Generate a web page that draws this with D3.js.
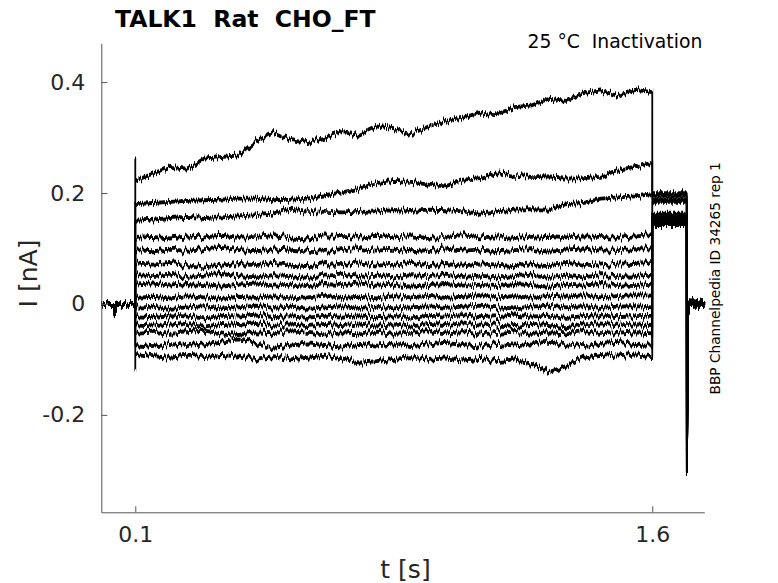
<!DOCTYPE html>
<html>
<head>
<meta charset="utf-8">
<script src="https://cdn.jsdelivr.net/npm/d3@7"></script>
<style>
  body { margin: 0; background: #fff; }
  text { font-family: "DejaVu Sans", sans-serif; white-space: pre; }
</style>
</head>
<body>
<div id="chart"></div>
<script>
// holding level before the conditioning step (all sweeps overlap here)
const preTimes  = [0.0014, 0.01, 0.02, 0.03, 0.038, 0.041, 0.044, 0.05, 0.06, 0.07, 0.08, 0.09, 0.1];
const preValues = [0.001, -0.002, 0.002, -0.001, -0.004, -0.022, -0.003, 0.002, -0.004, 0.001, -0.003, 0.002, 0.0];

// conditioning step, sampled every 50 ms (nA)
const stepTimes = [0.10, 0.15, 0.20, 0.25, 0.30, 0.35, 0.40, 0.45, 0.50, 0.55, 0.60, 0.65, 0.70, 0.75, 0.80, 0.85,
                   0.90, 0.95, 1.00, 1.05, 1.10, 1.15, 1.20, 1.25, 1.30, 1.35, 1.40, 1.45, 1.50, 1.55, 1.60];
const sweep1  = [0.222, 0.235, 0.247, 0.244, 0.262, 0.265, 0.268, 0.292, 0.310, 0.296, 0.290, 0.300, 0.310, 0.305, 0.320, 0.315,
                 0.306, 0.320, 0.330, 0.336, 0.345, 0.342, 0.355, 0.358, 0.370, 0.366, 0.380, 0.385, 0.375, 0.386, 0.382];
const sweep2  = [0.180, 0.182, 0.184, 0.186, 0.187, 0.188, 0.190, 0.190, 0.187, 0.188, 0.190, 0.196, 0.201, 0.208, 0.218, 0.222,
                 0.220, 0.215, 0.212, 0.224, 0.227, 0.236, 0.231, 0.229, 0.228, 0.226, 0.227, 0.229, 0.242, 0.247, 0.255];
const sweep3  = [0.150, 0.152, 0.155, 0.157, 0.155, 0.156, 0.158, 0.160, 0.163, 0.172, 0.168, 0.166, 0.165, 0.166, 0.167, 0.169,
                 0.168, 0.170, 0.169, 0.167, 0.163, 0.167, 0.170, 0.171, 0.170, 0.180, 0.182, 0.190, 0.192, 0.194, 0.198];
const sweep4  = [0.119, 0.121, 0.118, 0.122, 0.120, 0.123, 0.119, 0.121, 0.124, 0.120, 0.118, 0.122, 0.121, 0.119, 0.123, 0.120,
                 0.122, 0.119, 0.121, 0.124, 0.120, 0.122, 0.119, 0.121, 0.123, 0.120, 0.122, 0.121, 0.119, 0.122, 0.124];
const sweep5  = [0.097, 0.095, 0.098, 0.096, 0.099, 0.101, 0.097, 0.095, 0.098, 0.100, 0.096, 0.094, 0.097, 0.099, 0.096, 0.098,
                 0.095, 0.097, 0.100, 0.096, 0.098, 0.095, 0.097, 0.099, 0.096, 0.098, 0.100, 0.096, 0.097, 0.099, 0.098];
const sweep6  = [0.073, 0.071, 0.074, 0.070, 0.066, 0.069, 0.072, 0.070, 0.074, 0.071, 0.068, 0.072, 0.070, 0.073, 0.069, 0.071,
                 0.074, 0.070, 0.072, 0.069, 0.073, 0.071, 0.068, 0.072, 0.070, 0.074, 0.071, 0.069, 0.073, 0.072, 0.074];
const sweep7  = [0.052, 0.050, 0.053, 0.049, 0.051, 0.054, 0.050, 0.048, 0.052, 0.050, 0.047, 0.051, 0.053, 0.049, 0.051, 0.048,
                 0.052, 0.050, 0.053, 0.049, 0.051, 0.048, 0.050, 0.053, 0.049, 0.051, 0.048, 0.052, 0.050, 0.049, 0.051];
const sweep8  = [0.035, 0.037, 0.033, 0.036, 0.034, 0.031, 0.035, 0.037, 0.033, 0.035, 0.032, 0.036, 0.034, 0.037, 0.033, 0.035,
                 0.031, 0.034, 0.036, 0.033, 0.035, 0.032, 0.036, 0.034, 0.031, 0.035, 0.033, 0.036, 0.034, 0.032, 0.035];
const sweep9  = [0.011, 0.013, 0.010, 0.014, 0.012, 0.009, 0.013, 0.011, 0.014, 0.010, 0.012, 0.015, 0.011, 0.013, 0.010, 0.014,
                 0.012, 0.015, 0.011, 0.013, 0.016, 0.012, 0.014, 0.011, 0.015, 0.013, 0.016, 0.012, 0.014, 0.016, 0.015];
const sweep10 = [-0.007, -0.005, -0.009, -0.006, -0.004, -0.008, -0.006, -0.003, -0.007, -0.005, -0.009, -0.006, -0.004, -0.007, -0.005, -0.008,
                 -0.006, -0.004, -0.007, -0.005, -0.003, -0.006, -0.008, -0.005, -0.003, -0.006, -0.004, -0.007, -0.005, -0.004, -0.006];
const sweep11 = [-0.022, -0.024, -0.020, -0.023, -0.026, -0.021, -0.023, -0.019, -0.024, -0.022, -0.025, -0.021, -0.023, -0.020, -0.024, -0.022,
                 -0.026, -0.021, -0.023, -0.020, -0.024, -0.022, -0.019, -0.023, -0.021, -0.025, -0.022, -0.020, -0.024, -0.022, -0.021];
const sweep12 = [-0.037, -0.039, -0.035, -0.038, -0.041, -0.036, -0.038, -0.034, -0.039, -0.037, -0.040, -0.036, -0.038, -0.035, -0.039, -0.037,
                 -0.041, -0.036, -0.038, -0.035, -0.039, -0.037, -0.040, -0.036, -0.038, -0.042, -0.037, -0.035, -0.039, -0.037, -0.038];
const sweep13 = [-0.052, -0.050, -0.054, -0.051, -0.048, -0.053, -0.056, -0.051, -0.053, -0.049, -0.052, -0.055, -0.051, -0.053, -0.050, -0.054,
                 -0.052, -0.049, -0.053, -0.051, -0.055, -0.052, -0.050, -0.054, -0.051, -0.053, -0.049, -0.052, -0.054, -0.051, -0.053];
const sweep14 = [-0.074, -0.078, -0.072, -0.076, -0.073, -0.068, -0.064, -0.070, -0.079, -0.075, -0.071, -0.074, -0.077, -0.072, -0.075, -0.071,
                 -0.076, -0.073, -0.070, -0.074, -0.077, -0.072, -0.075, -0.071, -0.068, -0.073, -0.076, -0.072, -0.070, -0.074, -0.073];
const sweep15 = [-0.090, -0.094, -0.097, -0.093, -0.096, -0.092, -0.095, -0.099, -0.094, -0.100, -0.097, -0.093, -0.098, -0.106, -0.103, -0.099,
                 -0.096, -0.101, -0.098, -0.102, -0.099, -0.103, -0.100, -0.108, -0.123, -0.112, -0.097, -0.092, -0.095, -0.091, -0.094];
const sweeps = [sweep1, sweep2, sweep3, sweep4, sweep5, sweep6, sweep7, sweep8,
                sweep9, sweep10, sweep11, sweep12, sweep13, sweep14, sweep15];

// capacitive peak at step onset, and level during the test pulse
const onsetPeaks = [0.259, 0.182, 0.152, 0.120, 0.098, 0.074, 0.053, 0.036, 0.012, -0.006, -0.022, -0.037, -0.052, -0.075, -0.118];
const testTimes  = [1.60, 1.70];
const testLevels = [0.200, 0.195, 0.189, 0.184, 0.163, 0.160, 0.158, 0.156, 0.154, 0.152, 0.150, 0.148, 0.146, 0.144, 0.142];

// tail after the test pulse (sweeps overlap)
const tailTimes  = [1.7005, 1.7025, 1.704, 1.707, 1.712, 1.718, 1.724, 1.730, 1.736, 1.742, 1.748, 1.751];
const tailValues = [-0.305, -0.110, -0.020, 0.006, -0.004, 0.008, -0.006, 0.007, -0.005, 0.006, -0.004, 0.003];

const xTicks = [0.1, 1.6];
const yTicks = [-0.2, 0, 0.2, 0.4];

const W = 778, H = 583;
const plot = {left: 101.3, right: 704.3, top: 43.3, bottom: 512.3};

const svg = d3.select("#chart").append("svg")
    .attr("width", W)
    .attr("height", H);

// jitter the strokes vertically only, then thicken them vertically,
// so they read like sampled recordings while the steps stay thin
const filt = svg.append("defs").append("filter")
    .attr("id", "rough")
    .attr("filterUnits", "userSpaceOnUse")
    .attr("x", 0).attr("y", 0).attr("width", W).attr("height", H);
filt.append("feTurbulence")
    .attr("type", "fractalNoise")
    .attr("baseFrequency", "0.6 0.01")
    .attr("numOctaves", 2)
    .attr("seed", 7)
    .attr("result", "noise");
filt.append("feColorMatrix")
    .attr("in", "noise")
    .attr("type", "matrix")
    .attr("values", "0 0 0 0 0.5  0 1 0 0 0  0 0 0 0 0  0 0 0 0 1")
    .attr("result", "yonly");
filt.append("feDisplacementMap")
    .attr("in", "SourceGraphic")
    .attr("in2", "yonly")
    .attr("scale", 11)
    .attr("xChannelSelector", "R")
    .attr("yChannelSelector", "G")
    .attr("result", "jagged");
filt.append("feMorphology")
    .attr("in", "jagged")
    .attr("operator", "dilate")
    .attr("radius", "0 1");

const x = d3.scaleLinear().domain([0.0014, 1.751]).range([plot.left, plot.right]);
const y = d3.scaleLinear().domain([-0.3757, 0.470]).range([plot.bottom, plot.top]);

// build each sweep as one continuous path
const traces = sweeps.map((vals, i) => {
    const pts = preTimes.map((t, j) => [t, preValues[j]]);
    pts.push([0.1, onsetPeaks[i]]);
    stepTimes.forEach((t, j) => pts.push([t, vals[j]]));
    testTimes.forEach(t => pts.push([t, testLevels[i]]));
    tailTimes.forEach((t, j) => pts.push([t, tailValues[j]]));
    return pts;
});

const line = d3.line()
    .x(d => x(d[0]))
    .y(d => y(d[1]));

svg.append("g")
    .attr("filter", "url(#rough)")
    .selectAll("path")
    .data(traces)
    .join("path")
    .attr("d", line)
    .attr("fill", "none")
    .attr("stroke", "#000")
    .attr("stroke-width", 1.8)
    .attr("stroke-linejoin", "round");

// axes, ticks pointing inward like the original
const xAxis = svg.append("g")
    .attr("transform", `translate(0,${plot.bottom})`)
    .call(d3.axisBottom(x).tickValues(xTicks).tickSize(-6).tickSizeOuter(0).tickPadding(14.4)
        .tickFormat(d => d.toFixed(1)));

const yAxis = svg.append("g")
    .attr("transform", `translate(${plot.left},0)`)
    .call(d3.axisLeft(y).tickValues(yTicks).tickSize(-6).tickSizeOuter(0).tickPadding(16)
        .tickFormat(d => d === 0 ? "0" : d.toFixed(1)));

[xAxis, yAxis].forEach(a => {
    a.select(".domain").attr("stroke", "#555").attr("stroke-width", 1);
    a.selectAll(".tick line").attr("stroke", "#555");
    a.selectAll(".tick text")
        .attr("fill", "#262626")
        .style("font-size", "22px")
        .style("font-family", "DejaVu Sans");
});

// titles and labels
svg.append("text")
    .attr("x", 115)
    .attr("y", 26.5)
    .style("font-size", "23.5px")
    .style("font-weight", "bold")
    .text("TALK1  Rat  CHO_FT");

svg.append("text")
    .attr("x", 702.3)
    .attr("y", 47.7)
    .attr("text-anchor", "end")
    .style("font-size", "18.8px")
    .text("25 °C  Inactivation");

svg.append("text")
    .attr("x", 405.5)
    .attr("y", 578)
    .attr("text-anchor", "middle")
    .attr("fill", "#262626")
    .style("font-size", "25px")
    .text("t [s]");

svg.append("text")
    .attr("transform", "translate(36.7,273.5) rotate(-90)")
    .attr("text-anchor", "middle")
    .attr("fill", "#262626")
    .style("font-size", "25px")
    .text("I [nA]");

svg.append("text")
    .attr("transform", "translate(720,278.3) rotate(-90)")
    .attr("text-anchor", "middle")
    .style("font-size", "13.7px")
    .text("BBP Channelpedia ID 34265 rep 1");
</script>
</body>
</html>
